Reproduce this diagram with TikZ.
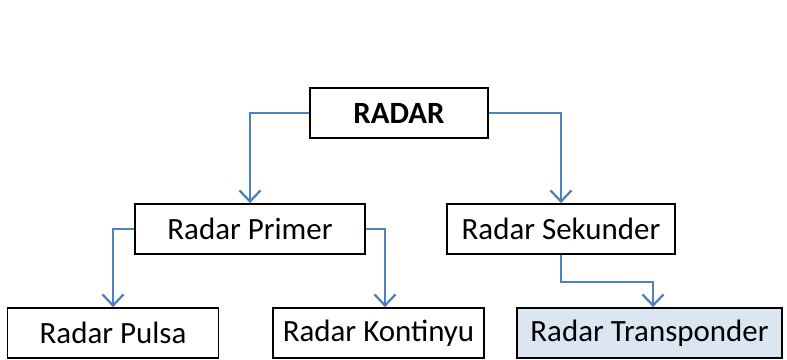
\documentclass[tikz,border=0pt]{standalone}
\usepackage{fontspec}
\setmainfont{Carlito}
\usepackage{tikz}
\usetikzlibrary{arrows.meta}
\definecolor{linkblue}{HTML}{4F81BD}
\definecolor{boxblue}{HTML}{DCE6F2}
\tikzset{typebox/.style={rectangle, draw, line width=1pt, minimum height=1cm, font=\fontsize{17.6}{20}\selectfont}}
\tikzset{link/.style={draw=linkblue, line width=1.3pt, -{Straight Barb[length=2.2mm, width=4.2mm]}}}

\begin{document}
\begin{tikzpicture}[]
  \useasboundingbox (0,0) rectangle (15.74,7.18);

  \node[typebox, minimum width=3.56cm, font=\fontsize{17.6}{20}\selectfont\bfseries] (radar) at (7.98,4.92) {RADAR};

  \node[typebox, minimum width=4.6cm] (primer) at (5.0,2.6) {Radar Primer};
  \node[typebox, minimum width=4.56cm] (sekunder) at (11.22,2.6) {Radar Sekunder};

  \node[typebox, minimum width=4.22cm] (pulsa) at (2.26,0.52) {Radar Pulsa};
  \node[typebox, minimum width=4.22cm] (kontinyu) at (7.57,0.52) {Radar Kontinyu};
  \node[typebox, minimum width=5.3cm, fill=boxblue] (transponder) at (12.99,0.52) {Radar Transponder};

  \draw[link] (radar) -| (primer);
  \draw[link] (radar) -| (sekunder);

  \draw[link] (primer) -| (pulsa);
  \draw[link] (primer) -| ([xshift=0.13cm]kontinyu.north);

  \draw[link] (sekunder.south) -- ++(0,-0.54) -| ([xshift=0.07cm]transponder.north);

\end{tikzpicture}
\end{document}
